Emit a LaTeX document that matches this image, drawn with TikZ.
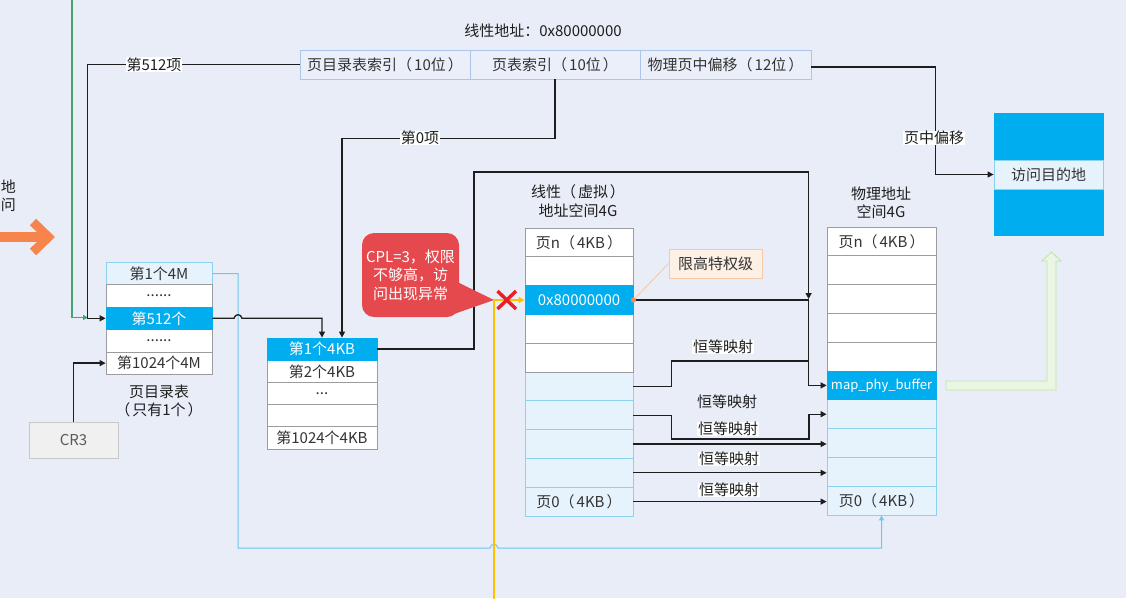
\documentclass[tikz,border=0pt]{standalone}
\usepackage{fontspec}
\setmainfont{Noto Sans CJK SC}
\usetikzlibrary{arrows.meta,calc}
\definecolor{bgc}{RGB}{233,237,247}
\definecolor{cyanc}{RGB}{0,174,239}
\definecolor{lrow}{RGB}{230,242,252}
\definecolor{lbord}{RGB}{140,210,238}
\definecolor{gbord}{RGB}{155,155,160}
\definecolor{abord}{RGB}{170,198,235}
\definecolor{afill}{RGB}{234,239,250}
\definecolor{txt}{RGB}{51,51,51}
\definecolor{ink}{RGB}{30,30,30}
\definecolor{redc}{RGB}{229,72,77}
\definecolor{xred}{RGB}{232,30,40}
\definecolor{peachf}{RGB}{253,240,228}
\definecolor{peachb}{RGB}{246,200,165}
\definecolor{dotc}{RGB}{242,140,90}
\definecolor{yel}{RGB}{255,192,0}
\definecolor{grn}{RGB}{70,165,110}
\definecolor{orng}{RGB}{247,132,76}
\definecolor{bline}{RGB}{110,200,235}
\definecolor{hgf}{RGB}{234,246,226}
\definecolor{hgb}{RGB}{190,228,170}
\definecolor{crf}{RGB}{240,240,240}
\definecolor{crb}{RGB}{200,200,200}
\definecolor{crt}{RGB}{90,90,90}
\newcommand{\myfs}{\fontsize{15pt}{18.5pt}\selectfont}
\newcommand{\mylp}{（\hspace{2pt}}
\newcommand{\myrp}{\hspace{2pt}）}
\begin{document}
\begin{tikzpicture}[x=1pt,y=-1pt,
 cell/.style={draw=gbord, fill=white, line width=0.8pt, inner sep=0pt, font=\myfs, text=txt},
 dirrow/.style={cell, minimum width=106pt, minimum height=22.4pt},
 ptrow/.style={cell, minimum width=110pt, minimum height=22.2pt},
 linrow/.style={cell, minimum width=108pt, minimum height=28.8pt},
 phyrow/.style={cell, minimum width=109pt, minimum height=28.8pt},
 hl/.style={fill=cyanc, draw=cyanc, text=white},
 lb/.style={fill=lrow, draw=lbord},
 addr/.style={draw=abord, fill=afill, line width=0.8pt, minimum height=29pt, inner sep=0pt, font=\myfs, text=txt},
 wire/.style={draw=ink, line width=1.3pt},
 conn/.style={wire, -{Triangle[length=6pt,width=6pt]}},
 lab/.style={fill=white, inner xsep=1pt, inner ysep=0.5pt, font=\myfs, text=ink},
 plain/.style={font=\myfs, text=ink, align=center, inner sep=0pt},
]
\fill[bgc] (0,0) rectangle (1126,598);
\useasboundingbox (0,0) rectangle (1126,598);

% left text and orange arrow
\node[plain, anchor=east] (lt1) at (16,187) {地};
\node[plain, anchor=east] (lt2) at (16,205) {问};
\fill[orng] (-5,232) rectangle (46,242);
\draw[orng, line width=9pt, line join=miter] (33,222) -- (48.5,237) -- (33,252);

% title and address bar
\node[plain] (title) at (543,31) {线性地址：0x80000000};
\node[addr, minimum width=170pt] (a1) at (385,64.5) {页目录表索引\mylp 10位\myrp};
\node[addr, minimum width=170pt] (a2) at (555,64.5) {页表索引\mylp 10位\myrp};
\node[addr, minimum width=171pt] (a3) at (725.5,64.5) {物理页中偏移\mylp 12位\myrp};

% page directory
\node[dirrow, lb] (d1) at (159,273.5) {第1个4M};
\node[dirrow] (d2) at (159,295.9) {......};
\node[dirrow] (d4) at (159,340.7) {......};
\node[dirrow] (d5) at (159,363.1) {第1024个4M};
\node[dirrow, hl] (d3) at (159,318.3) {第512个};
\node[plain] (dlab) at (159,401) {页目录表\\\mylp 只有1个\myrp};

% CR3
\node[draw=crb, fill=crf, line width=0.8pt, minimum width=89pt, minimum height=36pt, font=\myfs, text=crt] (cr3) at (73.5,440) {CR3};

% page table
\node[ptrow] (p2) at (322,371.3) {第2个4KB};
\node[ptrow] (p3) at (322,393.5) {...};
\node[ptrow] (p4) at (322,415.7) {};
\node[ptrow] (p5) at (322,437.9) {第1024个4KB};
\node[ptrow, hl] (p1) at (322,349.1) {第1个4KB};

% linear space
\node[plain] (llab) at (578,201) {线性\mylp 虚拟\myrp\\地址空间4G};
\node[linrow, lb] (l6) at (579,386.4) {};
\node[linrow, lb] (l7) at (579,415.2) {};
\node[linrow, lb] (l8) at (579,444.0) {};
\node[linrow, lb] (l9) at (579,472.8) {};
\node[linrow, lb] (l10) at (579,501.6) {页0\mylp 4KB\myrp};
\node[linrow] (l1) at (579,242.4) {页n\mylp 4KB\myrp};
\node[linrow] (l2) at (579,271.2) {};
\node[linrow] (l4) at (579,328.8) {};
\node[linrow] (l5) at (579,357.6) {};
\node[linrow, hl] (l3) at (579,300.0) {0x80000000};

% physical space
\node[plain] (plab) at (881,203) {物理地址\\空间4G};
\node[phyrow, lb] (ph7) at (881.5,414.2) {};
\node[phyrow, lb] (ph8) at (881.5,443.0) {};
\node[phyrow, lb] (ph9) at (881.5,471.8) {};
\node[phyrow, lb] (ph10) at (881.5,500.6) {页0\mylp 4KB\myrp};
\node[phyrow] (ph1) at (881.5,241.4) {页n\mylp 4KB\myrp};
\node[phyrow] (ph2) at (881.5,270.2) {};
\node[phyrow] (ph3) at (881.5,299.0) {};
\node[phyrow] (ph4) at (881.5,327.8) {};
\node[phyrow] (ph5) at (881.5,356.6) {};
\node[phyrow, hl, font=\fontsize{13pt}{16pt}\selectfont] (ph6) at (881.5,385.4) {map\_phy\_buffer};

% target
\node[draw=cyanc, fill=cyanc, minimum width=109pt, minimum height=47pt, inner sep=0pt] (t1) at (1048.5,136.5) {};
\node[draw=cyanc, fill=cyanc, minimum width=109pt, minimum height=46pt, inner sep=0pt] (t3) at (1048.5,212) {};
\node[draw=lbord, fill=lrow, line width=0.8pt, minimum width=109pt, minimum height=29pt, inner sep=0pt, font=\myfs, text=txt] (t2) at (1048.5,174.5) {访问目的地};

% callout: 限高特权级
\node[draw=peachb, fill=peachf, line width=0.8pt, minimum width=93pt, minimum height=29pt, inner sep=0pt, font=\myfs, text=txt] (hq) at (715.5,263.5) {限高特权级};

% connectors
\coordinate (gstart) at (72,-2);
\coordinate (gend) at (88,317.5);
\draw[grn, line width=1.3pt, -{Triangle[length=5pt,width=5pt]}] (gstart) |- (gend);
\draw[conn] (a1.west) -- ++(-212,0) |- (d3.west);
\node[lab] (l512) at (154,64.5) {第512项};
\draw[conn] (cr3.north) |- (d5.west);
\draw[conn] (a2.south) -- ++(0,59) -| ($(p1.north)+(20,0)$);
\node[lab] (l0) at (420,138) {第0项};
\draw[bline, line width=1pt, -{Triangle[length=5pt,width=5pt]}] (d1.east) -- (238,273.5) -- (238,548) -- (490,548) .. controls (491,543) and (497,543) .. (498,548) -| (ph10.south);
\draw[conn] (d3.east) -- (234,318.3) .. controls (235,313.5) and (241,313.5) .. (242,318.3) -| (p1.north);
\draw[conn] (p1.east) -| (474,172) -| ($(ph3.west)+(-18,0)$);
\draw[conn] (l3.east) -| ($(ph6.west)+(-18,0)$) -- (ph6.west);
\draw[wire] (l6.east) -- ++(38,0) |- (809,361);
\draw[conn] (l7.east) -- ++(38,0) |- (809,439) |- (ph7.west);
\draw[conn] (l8.east) -- (l8.east -| ph8.west);
\draw[conn] (l9.east) -- (l9.east -| ph9.west);
\draw[conn] (l10.east) -- (l10.east -| ph10.west);
\draw[conn] ($(a3.east)+(0,2.5)$) -- ++(124,0) |- (t2.west);
\node[lab] (lpo) at (934,138) {页中偏移};
\node[lab] (m1) at (723,347) {恒等映射};
\node[plain] (m2) at (727,402) {恒等映射};
\node[lab] (m3) at (728,429) {恒等映射};
\node[lab] (m4) at (729,459) {恒等映射};
\node[lab] (m5) at (729,490) {恒等映射};
\draw[peachb, line width=0.8pt] (l3.east) -- (hq.west);
\fill[dotc] (l3.east) circle (2.6pt);

% green hollow arrow
\draw[hgb, fill=hgf, line width=0.8pt] (946,381) -- (1047,381) -- (1047,261) -- (1042,261) -- (1051.5,252) -- (1061,261) -- (1056,261) -- (1056,390) -- (946,390) -- cycle;

% red CPL callout
\node[fill=redc, rounded corners=12pt, minimum width=97pt, minimum height=84pt, text=white, font=\myfs, align=center, inner sep=0pt] (cpl) at (410.5,275) {CPL=3，权限\\不够高，访\\问出现异常};
\fill[redc] ($(cpl.east)+(-4,6)$) -- (494,300) -- ($(cpl.east)+(-11,41)$) -- cycle;

% yellow path and red cross
\coordinate (ystart) at (494,600);
\draw[yel, line width=1.5pt, -{Triangle[length=6pt,width=6pt]}] (ystart) |- (l3.west);
\draw[xred, line width=3.4pt] (497.5,291) -- (516,309) (497.5,309) -- (516,291);
\end{tikzpicture}
\end{document}
